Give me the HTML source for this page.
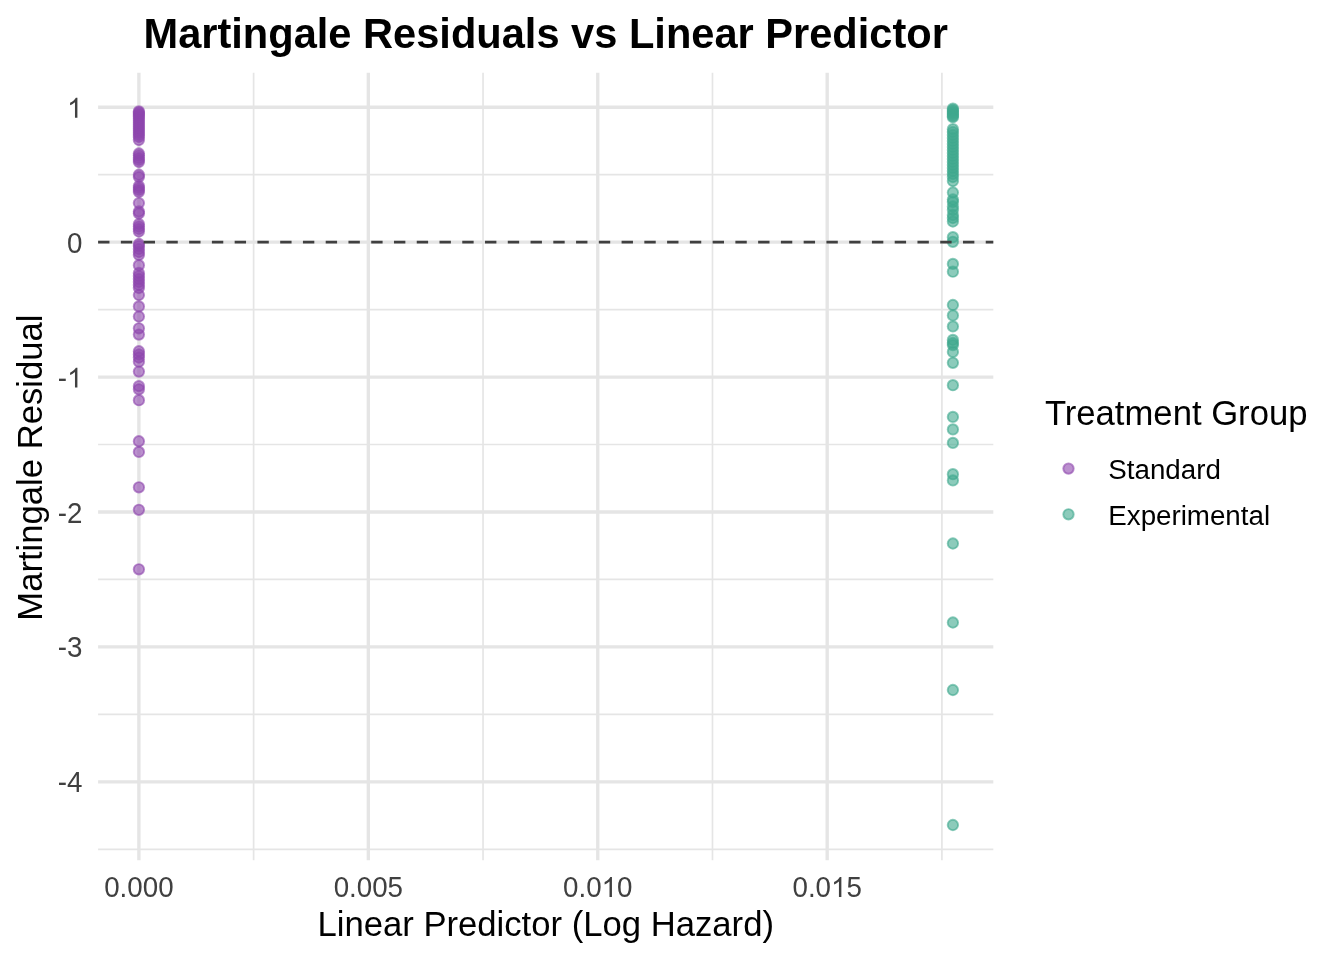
<!DOCTYPE html>
<html><head><meta charset="utf-8"><title>Martingale Residuals vs Linear Predictor</title>
<style>
html,body{margin:0;padding:0;background:#fff;}
body{width:1344px;height:960px;overflow:hidden;}
svg{display:block;will-change:transform;font-family:"Liberation Sans", sans-serif;}
</style></head><body>
<svg width="1344" height="960" viewBox="0 0 1344 960">
<rect width="1344" height="960" fill="#fff"/>
<line x1="98.10" y1="174.69" x2="993.30" y2="174.69" stroke="#E5E5E5" stroke-width="1.681" />
<line x1="98.10" y1="309.61" x2="993.30" y2="309.61" stroke="#E5E5E5" stroke-width="1.681" />
<line x1="98.10" y1="444.53" x2="993.30" y2="444.53" stroke="#E5E5E5" stroke-width="1.681" />
<line x1="98.10" y1="579.45" x2="993.30" y2="579.45" stroke="#E5E5E5" stroke-width="1.681" />
<line x1="98.10" y1="714.37" x2="993.30" y2="714.37" stroke="#E5E5E5" stroke-width="1.681" />
<line x1="98.10" y1="849.29" x2="993.30" y2="849.29" stroke="#E5E5E5" stroke-width="1.681" />
<line x1="253.62" y1="72.80" x2="253.62" y2="860.30" stroke="#E5E5E5" stroke-width="1.681" />
<line x1="483.04" y1="72.80" x2="483.04" y2="860.30" stroke="#E5E5E5" stroke-width="1.681" />
<line x1="712.48" y1="72.80" x2="712.48" y2="860.30" stroke="#E5E5E5" stroke-width="1.681" />
<line x1="941.91" y1="72.80" x2="941.91" y2="860.30" stroke="#E5E5E5" stroke-width="1.681" />
<line x1="98.10" y1="107.23" x2="993.30" y2="107.23" stroke="#E5E5E5" stroke-width="3.362" />
<line x1="98.10" y1="242.15" x2="993.30" y2="242.15" stroke="#E5E5E5" stroke-width="3.362" />
<line x1="98.10" y1="377.07" x2="993.30" y2="377.07" stroke="#E5E5E5" stroke-width="3.362" />
<line x1="98.10" y1="511.99" x2="993.30" y2="511.99" stroke="#E5E5E5" stroke-width="3.362" />
<line x1="98.10" y1="646.91" x2="993.30" y2="646.91" stroke="#E5E5E5" stroke-width="3.362" />
<line x1="98.10" y1="781.83" x2="993.30" y2="781.83" stroke="#E5E5E5" stroke-width="3.362" />
<line x1="138.90" y1="72.80" x2="138.90" y2="860.30" stroke="#E5E5E5" stroke-width="3.362" />
<line x1="368.33" y1="72.80" x2="368.33" y2="860.30" stroke="#E5E5E5" stroke-width="3.362" />
<line x1="597.76" y1="72.80" x2="597.76" y2="860.30" stroke="#E5E5E5" stroke-width="3.362" />
<line x1="827.19" y1="72.80" x2="827.19" y2="860.30" stroke="#E5E5E5" stroke-width="3.362" />
<circle cx="138.90" cy="111.40" r="5.2" fill="#8E46AD" fill-opacity="0.6" stroke="#8E46AD" stroke-opacity="0.6" stroke-width="1.89"/>
<circle cx="138.90" cy="112.50" r="5.2" fill="#8E46AD" fill-opacity="0.6" stroke="#8E46AD" stroke-opacity="0.6" stroke-width="1.89"/>
<circle cx="138.90" cy="114.00" r="5.2" fill="#8E46AD" fill-opacity="0.6" stroke="#8E46AD" stroke-opacity="0.6" stroke-width="1.89"/>
<circle cx="138.90" cy="115.50" r="5.2" fill="#8E46AD" fill-opacity="0.6" stroke="#8E46AD" stroke-opacity="0.6" stroke-width="1.89"/>
<circle cx="138.90" cy="117.00" r="5.2" fill="#8E46AD" fill-opacity="0.6" stroke="#8E46AD" stroke-opacity="0.6" stroke-width="1.89"/>
<circle cx="138.90" cy="119.00" r="5.2" fill="#8E46AD" fill-opacity="0.6" stroke="#8E46AD" stroke-opacity="0.6" stroke-width="1.89"/>
<circle cx="138.90" cy="121.00" r="5.2" fill="#8E46AD" fill-opacity="0.6" stroke="#8E46AD" stroke-opacity="0.6" stroke-width="1.89"/>
<circle cx="138.90" cy="123.00" r="5.2" fill="#8E46AD" fill-opacity="0.6" stroke="#8E46AD" stroke-opacity="0.6" stroke-width="1.89"/>
<circle cx="138.90" cy="125.00" r="5.2" fill="#8E46AD" fill-opacity="0.6" stroke="#8E46AD" stroke-opacity="0.6" stroke-width="1.89"/>
<circle cx="138.90" cy="127.00" r="5.2" fill="#8E46AD" fill-opacity="0.6" stroke="#8E46AD" stroke-opacity="0.6" stroke-width="1.89"/>
<circle cx="138.90" cy="129.00" r="5.2" fill="#8E46AD" fill-opacity="0.6" stroke="#8E46AD" stroke-opacity="0.6" stroke-width="1.89"/>
<circle cx="138.90" cy="131.00" r="5.2" fill="#8E46AD" fill-opacity="0.6" stroke="#8E46AD" stroke-opacity="0.6" stroke-width="1.89"/>
<circle cx="138.90" cy="133.00" r="5.2" fill="#8E46AD" fill-opacity="0.6" stroke="#8E46AD" stroke-opacity="0.6" stroke-width="1.89"/>
<circle cx="138.90" cy="135.00" r="5.2" fill="#8E46AD" fill-opacity="0.6" stroke="#8E46AD" stroke-opacity="0.6" stroke-width="1.89"/>
<circle cx="138.90" cy="137.00" r="5.2" fill="#8E46AD" fill-opacity="0.6" stroke="#8E46AD" stroke-opacity="0.6" stroke-width="1.89"/>
<circle cx="138.90" cy="140.00" r="5.2" fill="#8E46AD" fill-opacity="0.6" stroke="#8E46AD" stroke-opacity="0.6" stroke-width="1.89"/>
<circle cx="138.90" cy="153.50" r="5.2" fill="#8E46AD" fill-opacity="0.6" stroke="#8E46AD" stroke-opacity="0.6" stroke-width="1.89"/>
<circle cx="138.90" cy="155.50" r="5.2" fill="#8E46AD" fill-opacity="0.6" stroke="#8E46AD" stroke-opacity="0.6" stroke-width="1.89"/>
<circle cx="138.90" cy="158.00" r="5.2" fill="#8E46AD" fill-opacity="0.6" stroke="#8E46AD" stroke-opacity="0.6" stroke-width="1.89"/>
<circle cx="138.90" cy="160.00" r="5.2" fill="#8E46AD" fill-opacity="0.6" stroke="#8E46AD" stroke-opacity="0.6" stroke-width="1.89"/>
<circle cx="138.90" cy="162.00" r="5.2" fill="#8E46AD" fill-opacity="0.6" stroke="#8E46AD" stroke-opacity="0.6" stroke-width="1.89"/>
<circle cx="138.90" cy="174.75" r="5.2" fill="#8E46AD" fill-opacity="0.6" stroke="#8E46AD" stroke-opacity="0.6" stroke-width="1.89"/>
<circle cx="138.90" cy="177.00" r="5.2" fill="#8E46AD" fill-opacity="0.6" stroke="#8E46AD" stroke-opacity="0.6" stroke-width="1.89"/>
<circle cx="138.90" cy="186.00" r="5.2" fill="#8E46AD" fill-opacity="0.6" stroke="#8E46AD" stroke-opacity="0.6" stroke-width="1.89"/>
<circle cx="138.90" cy="188.00" r="5.2" fill="#8E46AD" fill-opacity="0.6" stroke="#8E46AD" stroke-opacity="0.6" stroke-width="1.89"/>
<circle cx="138.90" cy="190.00" r="5.2" fill="#8E46AD" fill-opacity="0.6" stroke="#8E46AD" stroke-opacity="0.6" stroke-width="1.89"/>
<circle cx="138.90" cy="192.00" r="5.2" fill="#8E46AD" fill-opacity="0.6" stroke="#8E46AD" stroke-opacity="0.6" stroke-width="1.89"/>
<circle cx="138.90" cy="203.10" r="5.2" fill="#8E46AD" fill-opacity="0.6" stroke="#8E46AD" stroke-opacity="0.6" stroke-width="1.89"/>
<circle cx="138.90" cy="211.50" r="5.2" fill="#8E46AD" fill-opacity="0.6" stroke="#8E46AD" stroke-opacity="0.6" stroke-width="1.89"/>
<circle cx="138.90" cy="213.50" r="5.2" fill="#8E46AD" fill-opacity="0.6" stroke="#8E46AD" stroke-opacity="0.6" stroke-width="1.89"/>
<circle cx="138.90" cy="224.00" r="5.2" fill="#8E46AD" fill-opacity="0.6" stroke="#8E46AD" stroke-opacity="0.6" stroke-width="1.89"/>
<circle cx="138.90" cy="226.50" r="5.2" fill="#8E46AD" fill-opacity="0.6" stroke="#8E46AD" stroke-opacity="0.6" stroke-width="1.89"/>
<circle cx="138.90" cy="229.00" r="5.2" fill="#8E46AD" fill-opacity="0.6" stroke="#8E46AD" stroke-opacity="0.6" stroke-width="1.89"/>
<circle cx="138.90" cy="231.50" r="5.2" fill="#8E46AD" fill-opacity="0.6" stroke="#8E46AD" stroke-opacity="0.6" stroke-width="1.89"/>
<circle cx="138.90" cy="244.00" r="5.2" fill="#8E46AD" fill-opacity="0.6" stroke="#8E46AD" stroke-opacity="0.6" stroke-width="1.89"/>
<circle cx="138.90" cy="246.00" r="5.2" fill="#8E46AD" fill-opacity="0.6" stroke="#8E46AD" stroke-opacity="0.6" stroke-width="1.89"/>
<circle cx="138.90" cy="249.00" r="5.2" fill="#8E46AD" fill-opacity="0.6" stroke="#8E46AD" stroke-opacity="0.6" stroke-width="1.89"/>
<circle cx="138.90" cy="252.00" r="5.2" fill="#8E46AD" fill-opacity="0.6" stroke="#8E46AD" stroke-opacity="0.6" stroke-width="1.89"/>
<circle cx="138.90" cy="255.00" r="5.2" fill="#8E46AD" fill-opacity="0.6" stroke="#8E46AD" stroke-opacity="0.6" stroke-width="1.89"/>
<circle cx="138.90" cy="265.20" r="5.2" fill="#8E46AD" fill-opacity="0.6" stroke="#8E46AD" stroke-opacity="0.6" stroke-width="1.89"/>
<circle cx="138.90" cy="273.00" r="5.2" fill="#8E46AD" fill-opacity="0.6" stroke="#8E46AD" stroke-opacity="0.6" stroke-width="1.89"/>
<circle cx="138.90" cy="276.00" r="5.2" fill="#8E46AD" fill-opacity="0.6" stroke="#8E46AD" stroke-opacity="0.6" stroke-width="1.89"/>
<circle cx="138.90" cy="279.00" r="5.2" fill="#8E46AD" fill-opacity="0.6" stroke="#8E46AD" stroke-opacity="0.6" stroke-width="1.89"/>
<circle cx="138.90" cy="282.00" r="5.2" fill="#8E46AD" fill-opacity="0.6" stroke="#8E46AD" stroke-opacity="0.6" stroke-width="1.89"/>
<circle cx="138.90" cy="285.00" r="5.2" fill="#8E46AD" fill-opacity="0.6" stroke="#8E46AD" stroke-opacity="0.6" stroke-width="1.89"/>
<circle cx="138.90" cy="288.00" r="5.2" fill="#8E46AD" fill-opacity="0.6" stroke="#8E46AD" stroke-opacity="0.6" stroke-width="1.89"/>
<circle cx="138.90" cy="295.00" r="5.2" fill="#8E46AD" fill-opacity="0.6" stroke="#8E46AD" stroke-opacity="0.6" stroke-width="1.89"/>
<circle cx="138.90" cy="306.40" r="5.2" fill="#8E46AD" fill-opacity="0.6" stroke="#8E46AD" stroke-opacity="0.6" stroke-width="1.89"/>
<circle cx="138.90" cy="316.50" r="5.2" fill="#8E46AD" fill-opacity="0.6" stroke="#8E46AD" stroke-opacity="0.6" stroke-width="1.89"/>
<circle cx="138.90" cy="328.30" r="5.2" fill="#8E46AD" fill-opacity="0.6" stroke="#8E46AD" stroke-opacity="0.6" stroke-width="1.89"/>
<circle cx="138.90" cy="334.60" r="5.2" fill="#8E46AD" fill-opacity="0.6" stroke="#8E46AD" stroke-opacity="0.6" stroke-width="1.89"/>
<circle cx="138.90" cy="351.25" r="5.2" fill="#8E46AD" fill-opacity="0.6" stroke="#8E46AD" stroke-opacity="0.6" stroke-width="1.89"/>
<circle cx="138.90" cy="354.40" r="5.2" fill="#8E46AD" fill-opacity="0.6" stroke="#8E46AD" stroke-opacity="0.6" stroke-width="1.89"/>
<circle cx="138.90" cy="357.50" r="5.2" fill="#8E46AD" fill-opacity="0.6" stroke="#8E46AD" stroke-opacity="0.6" stroke-width="1.89"/>
<circle cx="138.90" cy="361.70" r="5.2" fill="#8E46AD" fill-opacity="0.6" stroke="#8E46AD" stroke-opacity="0.6" stroke-width="1.89"/>
<circle cx="138.90" cy="371.60" r="5.2" fill="#8E46AD" fill-opacity="0.6" stroke="#8E46AD" stroke-opacity="0.6" stroke-width="1.89"/>
<circle cx="138.90" cy="386.10" r="5.2" fill="#8E46AD" fill-opacity="0.6" stroke="#8E46AD" stroke-opacity="0.6" stroke-width="1.89"/>
<circle cx="138.90" cy="389.30" r="5.2" fill="#8E46AD" fill-opacity="0.6" stroke="#8E46AD" stroke-opacity="0.6" stroke-width="1.89"/>
<circle cx="138.90" cy="400.20" r="5.2" fill="#8E46AD" fill-opacity="0.6" stroke="#8E46AD" stroke-opacity="0.6" stroke-width="1.89"/>
<circle cx="138.90" cy="441.25" r="5.2" fill="#8E46AD" fill-opacity="0.6" stroke="#8E46AD" stroke-opacity="0.6" stroke-width="1.89"/>
<circle cx="138.90" cy="451.90" r="5.2" fill="#8E46AD" fill-opacity="0.6" stroke="#8E46AD" stroke-opacity="0.6" stroke-width="1.89"/>
<circle cx="138.90" cy="487.30" r="5.2" fill="#8E46AD" fill-opacity="0.6" stroke="#8E46AD" stroke-opacity="0.6" stroke-width="1.89"/>
<circle cx="138.90" cy="509.80" r="5.2" fill="#8E46AD" fill-opacity="0.6" stroke="#8E46AD" stroke-opacity="0.6" stroke-width="1.89"/>
<circle cx="138.90" cy="569.30" r="5.2" fill="#8E46AD" fill-opacity="0.6" stroke="#8E46AD" stroke-opacity="0.6" stroke-width="1.89"/>
<circle cx="952.90" cy="108.60" r="5.2" fill="#3FA88D" fill-opacity="0.6" stroke="#3FA88D" stroke-opacity="0.6" stroke-width="1.89"/>
<circle cx="952.90" cy="110.00" r="5.2" fill="#3FA88D" fill-opacity="0.6" stroke="#3FA88D" stroke-opacity="0.6" stroke-width="1.89"/>
<circle cx="952.90" cy="111.50" r="5.2" fill="#3FA88D" fill-opacity="0.6" stroke="#3FA88D" stroke-opacity="0.6" stroke-width="1.89"/>
<circle cx="952.90" cy="113.00" r="5.2" fill="#3FA88D" fill-opacity="0.6" stroke="#3FA88D" stroke-opacity="0.6" stroke-width="1.89"/>
<circle cx="952.90" cy="114.50" r="5.2" fill="#3FA88D" fill-opacity="0.6" stroke="#3FA88D" stroke-opacity="0.6" stroke-width="1.89"/>
<circle cx="952.90" cy="116.00" r="5.2" fill="#3FA88D" fill-opacity="0.6" stroke="#3FA88D" stroke-opacity="0.6" stroke-width="1.89"/>
<circle cx="952.90" cy="117.20" r="5.2" fill="#3FA88D" fill-opacity="0.6" stroke="#3FA88D" stroke-opacity="0.6" stroke-width="1.89"/>
<circle cx="952.90" cy="129.20" r="5.2" fill="#3FA88D" fill-opacity="0.6" stroke="#3FA88D" stroke-opacity="0.6" stroke-width="1.89"/>
<circle cx="952.90" cy="132.00" r="5.2" fill="#3FA88D" fill-opacity="0.6" stroke="#3FA88D" stroke-opacity="0.6" stroke-width="1.89"/>
<circle cx="952.90" cy="135.00" r="5.2" fill="#3FA88D" fill-opacity="0.6" stroke="#3FA88D" stroke-opacity="0.6" stroke-width="1.89"/>
<circle cx="952.90" cy="138.00" r="5.2" fill="#3FA88D" fill-opacity="0.6" stroke="#3FA88D" stroke-opacity="0.6" stroke-width="1.89"/>
<circle cx="952.90" cy="141.00" r="5.2" fill="#3FA88D" fill-opacity="0.6" stroke="#3FA88D" stroke-opacity="0.6" stroke-width="1.89"/>
<circle cx="952.90" cy="144.00" r="5.2" fill="#3FA88D" fill-opacity="0.6" stroke="#3FA88D" stroke-opacity="0.6" stroke-width="1.89"/>
<circle cx="952.90" cy="147.00" r="5.2" fill="#3FA88D" fill-opacity="0.6" stroke="#3FA88D" stroke-opacity="0.6" stroke-width="1.89"/>
<circle cx="952.90" cy="150.00" r="5.2" fill="#3FA88D" fill-opacity="0.6" stroke="#3FA88D" stroke-opacity="0.6" stroke-width="1.89"/>
<circle cx="952.90" cy="153.00" r="5.2" fill="#3FA88D" fill-opacity="0.6" stroke="#3FA88D" stroke-opacity="0.6" stroke-width="1.89"/>
<circle cx="952.90" cy="156.00" r="5.2" fill="#3FA88D" fill-opacity="0.6" stroke="#3FA88D" stroke-opacity="0.6" stroke-width="1.89"/>
<circle cx="952.90" cy="159.00" r="5.2" fill="#3FA88D" fill-opacity="0.6" stroke="#3FA88D" stroke-opacity="0.6" stroke-width="1.89"/>
<circle cx="952.90" cy="162.00" r="5.2" fill="#3FA88D" fill-opacity="0.6" stroke="#3FA88D" stroke-opacity="0.6" stroke-width="1.89"/>
<circle cx="952.90" cy="165.00" r="5.2" fill="#3FA88D" fill-opacity="0.6" stroke="#3FA88D" stroke-opacity="0.6" stroke-width="1.89"/>
<circle cx="952.90" cy="168.00" r="5.2" fill="#3FA88D" fill-opacity="0.6" stroke="#3FA88D" stroke-opacity="0.6" stroke-width="1.89"/>
<circle cx="952.90" cy="171.00" r="5.2" fill="#3FA88D" fill-opacity="0.6" stroke="#3FA88D" stroke-opacity="0.6" stroke-width="1.89"/>
<circle cx="952.90" cy="174.00" r="5.2" fill="#3FA88D" fill-opacity="0.6" stroke="#3FA88D" stroke-opacity="0.6" stroke-width="1.89"/>
<circle cx="952.90" cy="177.00" r="5.2" fill="#3FA88D" fill-opacity="0.6" stroke="#3FA88D" stroke-opacity="0.6" stroke-width="1.89"/>
<circle cx="952.90" cy="181.00" r="5.2" fill="#3FA88D" fill-opacity="0.6" stroke="#3FA88D" stroke-opacity="0.6" stroke-width="1.89"/>
<circle cx="952.90" cy="192.50" r="5.2" fill="#3FA88D" fill-opacity="0.6" stroke="#3FA88D" stroke-opacity="0.6" stroke-width="1.89"/>
<circle cx="952.90" cy="199.50" r="5.2" fill="#3FA88D" fill-opacity="0.6" stroke="#3FA88D" stroke-opacity="0.6" stroke-width="1.89"/>
<circle cx="952.90" cy="202.00" r="5.2" fill="#3FA88D" fill-opacity="0.6" stroke="#3FA88D" stroke-opacity="0.6" stroke-width="1.89"/>
<circle cx="952.90" cy="206.50" r="5.2" fill="#3FA88D" fill-opacity="0.6" stroke="#3FA88D" stroke-opacity="0.6" stroke-width="1.89"/>
<circle cx="952.90" cy="210.00" r="5.2" fill="#3FA88D" fill-opacity="0.6" stroke="#3FA88D" stroke-opacity="0.6" stroke-width="1.89"/>
<circle cx="952.90" cy="215.00" r="5.2" fill="#3FA88D" fill-opacity="0.6" stroke="#3FA88D" stroke-opacity="0.6" stroke-width="1.89"/>
<circle cx="952.90" cy="218.00" r="5.2" fill="#3FA88D" fill-opacity="0.6" stroke="#3FA88D" stroke-opacity="0.6" stroke-width="1.89"/>
<circle cx="952.90" cy="221.50" r="5.2" fill="#3FA88D" fill-opacity="0.6" stroke="#3FA88D" stroke-opacity="0.6" stroke-width="1.89"/>
<circle cx="952.90" cy="237.20" r="5.2" fill="#3FA88D" fill-opacity="0.6" stroke="#3FA88D" stroke-opacity="0.6" stroke-width="1.89"/>
<circle cx="952.90" cy="241.80" r="5.2" fill="#3FA88D" fill-opacity="0.6" stroke="#3FA88D" stroke-opacity="0.6" stroke-width="1.89"/>
<circle cx="952.90" cy="263.90" r="5.2" fill="#3FA88D" fill-opacity="0.6" stroke="#3FA88D" stroke-opacity="0.6" stroke-width="1.89"/>
<circle cx="952.90" cy="271.70" r="5.2" fill="#3FA88D" fill-opacity="0.6" stroke="#3FA88D" stroke-opacity="0.6" stroke-width="1.89"/>
<circle cx="952.90" cy="305.00" r="5.2" fill="#3FA88D" fill-opacity="0.6" stroke="#3FA88D" stroke-opacity="0.6" stroke-width="1.89"/>
<circle cx="952.90" cy="315.40" r="5.2" fill="#3FA88D" fill-opacity="0.6" stroke="#3FA88D" stroke-opacity="0.6" stroke-width="1.89"/>
<circle cx="952.90" cy="326.40" r="5.2" fill="#3FA88D" fill-opacity="0.6" stroke="#3FA88D" stroke-opacity="0.6" stroke-width="1.89"/>
<circle cx="952.90" cy="339.90" r="5.2" fill="#3FA88D" fill-opacity="0.6" stroke="#3FA88D" stroke-opacity="0.6" stroke-width="1.89"/>
<circle cx="952.90" cy="343.00" r="5.2" fill="#3FA88D" fill-opacity="0.6" stroke="#3FA88D" stroke-opacity="0.6" stroke-width="1.89"/>
<circle cx="952.90" cy="345.10" r="5.2" fill="#3FA88D" fill-opacity="0.6" stroke="#3FA88D" stroke-opacity="0.6" stroke-width="1.89"/>
<circle cx="952.90" cy="351.90" r="5.2" fill="#3FA88D" fill-opacity="0.6" stroke="#3FA88D" stroke-opacity="0.6" stroke-width="1.89"/>
<circle cx="952.90" cy="362.80" r="5.2" fill="#3FA88D" fill-opacity="0.6" stroke="#3FA88D" stroke-opacity="0.6" stroke-width="1.89"/>
<circle cx="952.90" cy="385.20" r="5.2" fill="#3FA88D" fill-opacity="0.6" stroke="#3FA88D" stroke-opacity="0.6" stroke-width="1.89"/>
<circle cx="952.90" cy="416.90" r="5.2" fill="#3FA88D" fill-opacity="0.6" stroke="#3FA88D" stroke-opacity="0.6" stroke-width="1.89"/>
<circle cx="952.90" cy="429.40" r="5.2" fill="#3FA88D" fill-opacity="0.6" stroke="#3FA88D" stroke-opacity="0.6" stroke-width="1.89"/>
<circle cx="952.90" cy="442.90" r="5.2" fill="#3FA88D" fill-opacity="0.6" stroke="#3FA88D" stroke-opacity="0.6" stroke-width="1.89"/>
<circle cx="952.90" cy="474.20" r="5.2" fill="#3FA88D" fill-opacity="0.6" stroke="#3FA88D" stroke-opacity="0.6" stroke-width="1.89"/>
<circle cx="952.90" cy="480.40" r="5.2" fill="#3FA88D" fill-opacity="0.6" stroke="#3FA88D" stroke-opacity="0.6" stroke-width="1.89"/>
<circle cx="952.90" cy="543.50" r="5.2" fill="#3FA88D" fill-opacity="0.6" stroke="#3FA88D" stroke-opacity="0.6" stroke-width="1.89"/>
<circle cx="952.90" cy="622.50" r="5.2" fill="#3FA88D" fill-opacity="0.6" stroke="#3FA88D" stroke-opacity="0.6" stroke-width="1.89"/>
<circle cx="952.90" cy="690.00" r="5.2" fill="#3FA88D" fill-opacity="0.6" stroke="#3FA88D" stroke-opacity="0.6" stroke-width="1.89"/>
<circle cx="952.90" cy="825.00" r="5.2" fill="#3FA88D" fill-opacity="0.6" stroke="#3FA88D" stroke-opacity="0.6" stroke-width="1.89"/>
<line x1="98.10" y1="242.05" x2="993.30" y2="242.05" stroke="#404040" stroke-width="2.84" stroke-dasharray="11.38 11.38"/>
<g transform="translate(0 117.780) scale(1 1.045)"><path transform="translate(67.078 0.000) scale(0.013540 -0.012957)" d="M763 0L583 0L583 1147Q518 1085 412 1023Q306 961 223 930L223 1104Q374 1175 487 1276Q600 1377 647 1472L763 1472Z" fill="#404040"/></g>
<g transform="translate(0 252.700) scale(1 1.045)"><text x="67.078" y="0" font-size="27.73" fill="#404040">0</text></g>
<g transform="translate(0 387.620) scale(1 1.045)"><text x="57.844" y="0" font-size="27.73" fill="#404040">-</text><path transform="translate(67.078 0.000) scale(0.013540 -0.012957)" d="M763 0L583 0L583 1147Q518 1085 412 1023Q306 961 223 930L223 1104Q374 1175 487 1276Q600 1377 647 1472L763 1472Z" fill="#404040"/></g>
<g transform="translate(0 522.540) scale(1 1.045)"><text x="57.844" y="0" font-size="27.73" fill="#404040">-2</text></g>
<g transform="translate(0 657.460) scale(1 1.045)"><text x="57.844" y="0" font-size="27.73" fill="#404040">-3</text></g>
<g transform="translate(0 792.380) scale(1 1.045)"><text x="57.844" y="0" font-size="27.73" fill="#404040">-4</text></g>
<g transform="translate(0 897.000) scale(1 1.045)"><text x="104.204" y="0" font-size="27.73" fill="#404040">0.000</text></g>
<g transform="translate(0 897.000) scale(1 1.045)"><text x="333.634" y="0" font-size="27.73" fill="#404040">0.005</text></g>
<g transform="translate(0 897.000) scale(1 1.045)"><text x="563.064" y="0" font-size="27.73" fill="#404040">0.0</text><path transform="translate(601.612 0.000) scale(0.013540 -0.012957)" d="M763 0L583 0L583 1147Q518 1085 412 1023Q306 961 223 930L223 1104Q374 1175 487 1276Q600 1377 647 1472L763 1472Z" fill="#404040"/><text x="617.034" y="0" font-size="27.73" fill="#404040">0</text></g>
<g transform="translate(0 897.000) scale(1 1.045)"><text x="792.494" y="0" font-size="27.73" fill="#404040">0.0</text><path transform="translate(831.042 0.000) scale(0.013540 -0.012957)" d="M763 0L583 0L583 1147Q518 1085 412 1023Q306 961 223 930L223 1104Q374 1175 487 1276Q600 1377 647 1472L763 1472Z" fill="#404040"/><text x="846.464" y="0" font-size="27.73" fill="#404040">5</text></g>
<text x="545.70" y="935.7" text-anchor="middle" font-size="34.67" fill="#000">Linear Predictor (Log Hazard)</text>
<text transform="translate(42.2 467.6) rotate(-90)" x="0" y="0" text-anchor="middle" font-size="34.67" fill="#000">Martingale Residual</text>
<text x="545.70" y="47.8" text-anchor="middle" font-size="41.6" font-weight="bold" fill="#000">Martingale Residuals vs Linear Predictor</text>
<text x="1044.9" y="424.9" font-size="34.67" fill="#000">Treatment Group</text>
<circle cx="1068.50" cy="468.60" r="5.2" fill="#8E46AD" fill-opacity="0.6" stroke="#8E46AD" stroke-opacity="0.6" stroke-width="1.89"/>
<circle cx="1068.50" cy="514.30" r="5.2" fill="#3FA88D" fill-opacity="0.6" stroke="#3FA88D" stroke-opacity="0.6" stroke-width="1.89"/>
<text x="1108.3" y="479.3" font-size="27.73" fill="#000">Standard</text>
<text x="1108.3" y="524.9" font-size="27.73" fill="#000">Experimental</text>
</svg>
</body></html>
